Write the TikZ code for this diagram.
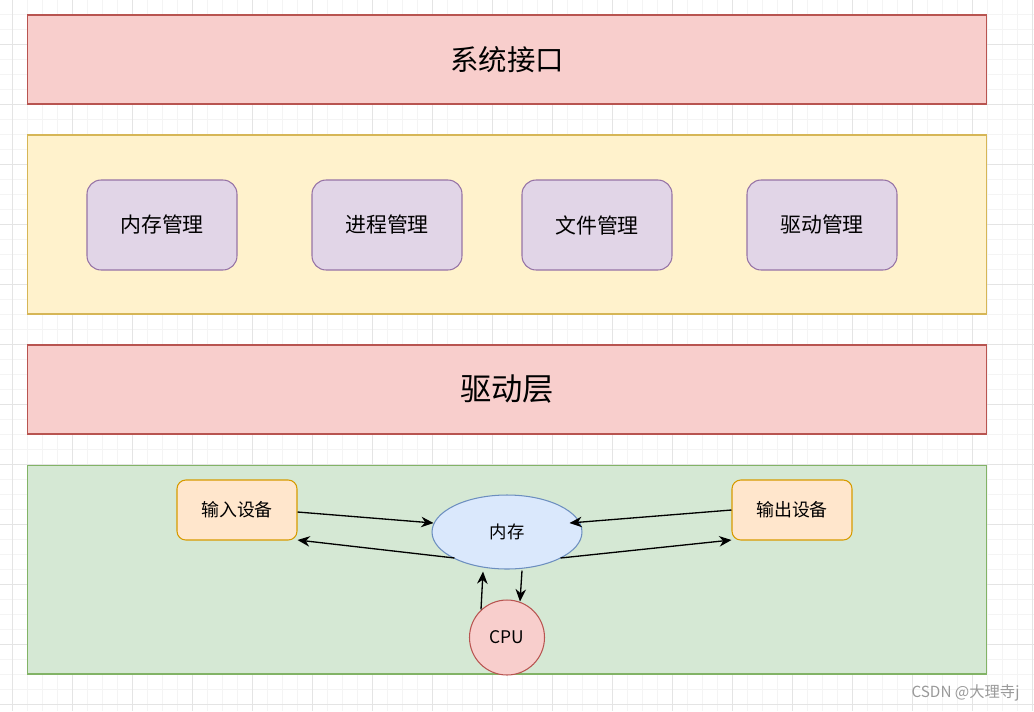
\documentclass[tikz,border=0pt]{standalone}
\usepackage{fontspec}
\setmainfont{Noto Sans CJK SC}
\usetikzlibrary{arrows.meta,calc,shapes.geometric}
\definecolor{redfill}{HTML}{F8CECC}
\definecolor{redline}{HTML}{B85450}
\definecolor{yelfill}{HTML}{FFF2CC}
\definecolor{yelline}{HTML}{D6B656}
\definecolor{purfill}{HTML}{E1D5E7}
\definecolor{purline}{HTML}{9673A6}
\definecolor{grnfill}{HTML}{D5E8D4}
\definecolor{grnline}{HTML}{82B366}
\definecolor{orgfill}{HTML}{FFE6CC}
\definecolor{orgline}{HTML}{D79B00}
\definecolor{blufill}{HTML}{DAE8FC}
\definecolor{bluline}{HTML}{6C8EBF}
\definecolor{gridminor}{HTML}{F4F4F4}
\definecolor{gridmajor}{HTML}{E4E4E4}

\begin{document}
\begin{tikzpicture}[x=0.02cm, y=-0.02cm,
      every node/.style = {line width=0.6pt, align=center, inner sep=0pt},
      layer/.style = {draw, minimum width=19.2cm},
      module/.style = {draw=purline, fill=purfill, rounded corners=8pt,
        minimum width=3cm, minimum height=1.8cm, font=\fontsize{11.9}{14}\selectfont},
      device/.style = {draw=orgline, fill=orgfill, rounded corners=5pt,
        minimum width=2.4cm, minimum height=1.2cm, font=\fontsize{10.2}{12}\selectfont},
      link/.style = {-{Stealth[length=7pt,width=6pt]}, line width=0.75pt}]
  \useasboundingbox (0,0) rectangle (1034,711);
  % background grid
  \foreach \x in {-3,12,...,1034} \draw[gridminor, line width=0.4pt] (\x,0) -- (\x,711);
  \foreach \y in {-1,14,...,711} \draw[gridminor, line width=0.4pt] (0,\y) -- (1034,\y);
  \foreach \x in {12,72,...,1034} \draw[gridmajor, line width=0.4pt] (\x,0) -- (\x,711);
  \foreach \y in {44,104,...,711} \draw[gridmajor, line width=0.4pt] (0,\y) -- (1034,\y);

  \node[layer, draw=redline, fill=redfill, minimum height=1.78cm,
    font=\fontsize{16.2}{19}\selectfont] (api) at (507,59.5) {系统接口};
  \node[layer, draw=yelline, fill=yelfill, minimum height=3.58cm] (kernel) at (507,224.5) {};
  \node[module] (mem) at (162,225) {内存管理};
  \node[module] (proc) at (387,225) {进程管理};
  \node[module] (file) at (597,225) {文件管理};
  \node[module] (drv) at (822,225) {驱动管理};
  \node[layer, draw=redline, fill=redfill, minimum height=1.78cm,
    font=\fontsize{17.8}{21}\selectfont] (driver) at (507,389.5) {驱动层};
  \node[layer, draw=grnline, fill=grnfill, minimum height=4.18cm] (hw) at (507,569.5) {};

  \node[device] (in) at (237,510) {输入设备};
  \node[device] (out) at (792,510) {输出设备};
  \node[draw=bluline, fill=blufill, ellipse, minimum width=3cm, minimum height=1.48cm,
    font=\fontsize{9.9}{12}\selectfont] (ram) at (507,532) {内存};
  \node[draw=redline, fill=redfill, circle, minimum size=1.5cm,
    font=\fontsize{9.9}{12}\selectfont] (cpu) at (507,637.5) {CPU};

  \draw[link] ($(in.east)+(0,2)$) -- ($(ram.west)+(2,-9)$);
  \draw[link] ($(ram.west)+(23,26)$) -- ($(in.east)+(0,30)$);
  \draw[link] ($(out.west)+(0,0)$) -- ($(ram.east)+(-13,-9)$);
  \draw[link] ($(ram.east)+(-22,26)$) -- ($(out.west)+(0,30)$);
  \draw[link] ($(cpu.north)+(-26,10)$) -- ($(ram.south)+(-24,2)$);
  \draw[link] ($(ram.south)+(15,1)$) -- ($(cpu.north)+(13,2)$);

  \node[text=black!40, font=\fontsize{8.7}{10}\selectfont, anchor=east] (mark) at (1020,693) {CSDN @大理寺j};
\end{tikzpicture}
\end{document}
